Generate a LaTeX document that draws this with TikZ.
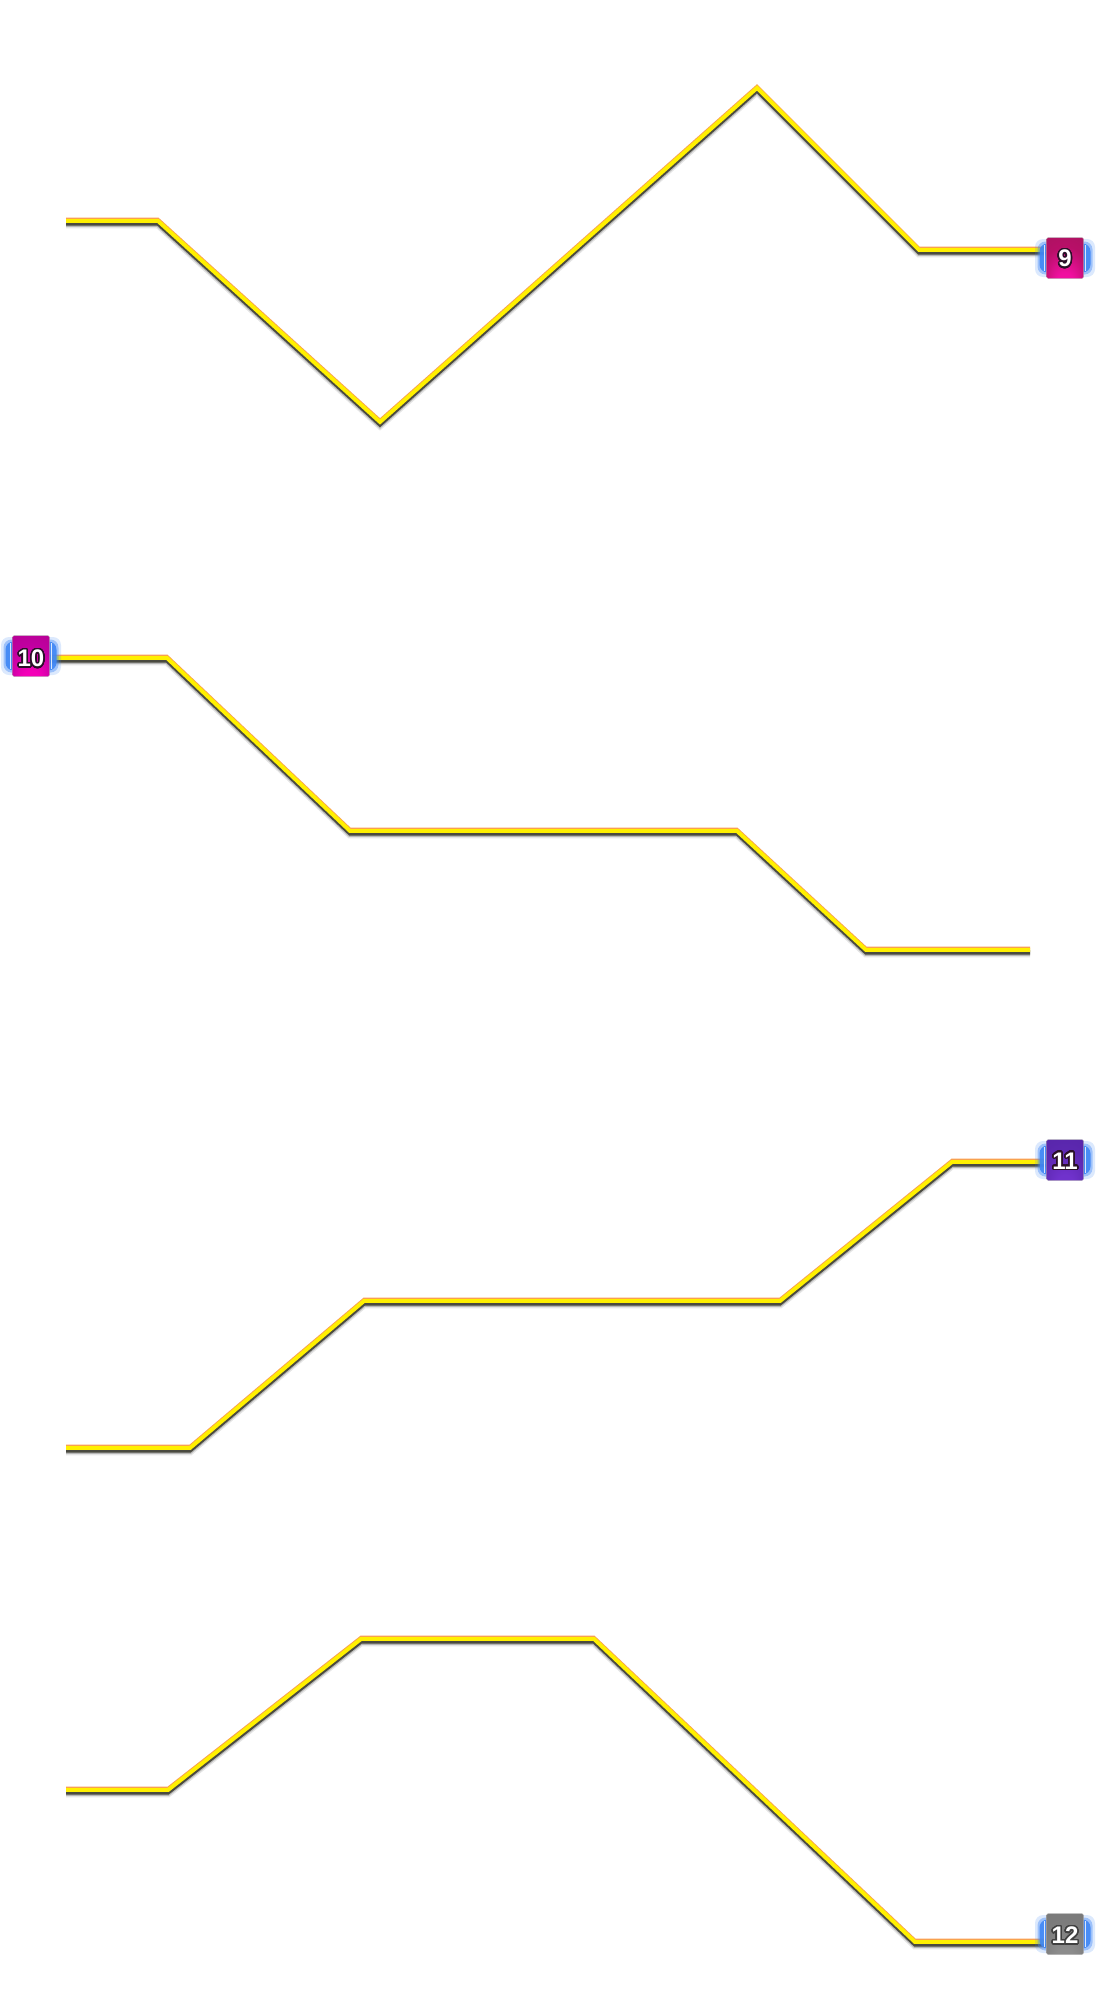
\documentclass[tikz,border=0pt]{standalone}
\usepackage{fontspec}
\setmainfont{Liberation Sans}
\setsansfont{Liberation Sans}
\usepackage[copies]{contour}
\contourlength{1.5pt}
\contournumber{32}
\usetikzlibrary{calc}
\definecolor{wireyellow}{HTML}{FFF000}
\definecolor{wireorange}{HTML}{F8A050}
\definecolor{wiredark}{HTML}{4A4A40}
\definecolor{glowblue}{HTML}{3F86F5}
\definecolor{inkdark}{HTML}{2A1028}
\definecolor{ninetop}{HTML}{A5155C}
\definecolor{ninemid}{HTML}{B80F68}
\definecolor{ninebot}{HTML}{F010A0}
\definecolor{tentop}{HTML}{B0008C}
\definecolor{tenmid}{HTML}{C000A0}
\definecolor{tenbot}{HTML}{F400B8}
\definecolor{eleventop}{HTML}{5425A5}
\definecolor{elevenmid}{HTML}{5C28B0}
\definecolor{elevenbot}{HTML}{7032CC}
\definecolor{twelvetop}{HTML}{787878}
\definecolor{twelvemid}{HTML}{7C7C7C}
\definecolor{twelvebot}{HTML}{8C8C8C}
\newcommand{\badgeshade}[1]{%
  \pgfdeclareradialshading{#1shade}{\pgfpoint{0bp}{-40bp}}{%
    color(0bp)=(#1bot);color(12bp)=(#1bot);color(30bp)=(#1mid);color(50bp)=(#1top)}}
\badgeshade{nine}\badgeshade{ten}\badgeshade{eleven}\badgeshade{twelve}
\tikzset{
  wirelayer/.style={line join=miter,miter limit=6,line cap=butt},
  wirefadeb/.style={wirelayer,draw=black,opacity=.10,line width=7.5pt,transform canvas={yshift=-3.6pt}},
  wirefadea/.style={wirelayer,draw=black,opacity=.20,line width=5.5pt,transform canvas={yshift=-3.1pt}},
  wiredarkl/.style={wirelayer,draw=wiredark,line width=4.4pt,transform canvas={yshift=-2.3pt}},
  wireorangel/.style={wirelayer,draw=wireorange,line width=3pt,transform canvas={yshift=1.8pt}},
  wireyellowl/.style={wirelayer,draw=wireyellow,line width=3.9pt},
  badge/.style={minimum width=37pt,minimum height=41pt,inner sep=0pt,rounded corners=1.5pt,
    draw=black!30,draw opacity=.5,line width=.6pt,font=\fontsize{24}{24}\bfseries\sffamily,text=white},
  gloww/.style={fill=glowblue,rounded corners=8pt,minimum width=#1,inner sep=0pt},
  glowa/.style={gloww=51pt,opacity=.9,minimum height=29pt},
  glowb/.style={gloww=55pt,opacity=.4,minimum height=33pt},
  glowc/.style={gloww=60pt,opacity=.18,minimum height=38pt},
  glowline/.style={draw=white,draw opacity=.8,line width=1.6pt},
}
\newcommand{\wire}[1]{%
  \draw[wirefadeb] #1;
  \draw[wirefadea] #1;
  \draw[wiredarkl] #1;
  \draw[wireorangel] #1;
  \draw[wireyellowl] #1;
}
% #1 drop below the badge centre, #2 outline colour, #3 text
\newcommand{\lbl}[3]{\raisebox{-#1pt}[0pt][0pt]{\contour{#2}{\textcolor{white}{#3}}}}
\newcommand{\sidelights}[1]{%
  \node[glowc] (#1gc) at (#1) {};
  \node[glowb] (#1gb) at (#1) {};
  \node[glowa] (#1ga) at (#1) {};
  \draw[glowline] ($(#1)+(-20.5,-13)$) -- ($(#1)+(-20.5,13)$);
  \draw[glowline] ($(#1)+(20.5,-13)$) -- ($(#1)+(20.5,13)$);
}
\begin{document}
\begin{tikzpicture}[x=1pt,y=-1pt]
\useasboundingbox (0,0) rectangle (1097,2012);
% centres of the badges
\coordinate (c9) at (1065,258);
\coordinate (c10) at (31,656);
\coordinate (c11) at (1065,1160);
\coordinate (c12) at (1065,1934);
% wire 1
\coordinate (a1) at (66,221);
\coordinate (a2) at (158,221);
\coordinate (a3) at (380,422);
\coordinate (a4) at (757,88);
\coordinate (a5) at (919,250);
\coordinate (a6) at (1047,250);
% wire 2
\coordinate (b1) at (49,658);
\coordinate (b2) at (167,658);
\coordinate (b3) at (350,831);
\coordinate (b4) at (737,831);
\coordinate (b5) at (866,950);
\coordinate (b6) at (1030,950);
% wire 3
\coordinate (d1) at (66,1448);
\coordinate (d2) at (190,1448);
\coordinate (d3) at (364,1301);
\coordinate (d4) at (780,1301);
\coordinate (d5) at (952,1162);
\coordinate (d6) at (1047,1162);
% wire 4
\coordinate (e1) at (66,1790);
\coordinate (e2) at (168,1790);
\coordinate (e3) at (361,1639);
\coordinate (e4) at (594,1639);
\coordinate (e5) at (915,1942);
\coordinate (e6) at (1047,1942);
\wire{(a1) -- (a2) -- (a3) -- (a4) -- (a5) -- (a6)}
\wire{(b1) -- (b2) -- (b3) -- (b4) -- (b5) -- (b6)}
\wire{(d1) -- (d2) -- (d3) -- (d4) -- (d5) -- (d6)}
\wire{(e1) -- (e2) -- (e3) -- (e4) -- (e5) -- (e6)}
\sidelights{c9}
\sidelights{c10}
\sidelights{c11}
\sidelights{c12}
\node[badge,shading=nineshade] (n9) at (c9) {\lbl{8.9}{inkdark}{9}};
\node[badge,shading=tenshade] (n10) at (c10) {\lbl{10.7}{inkdark}{10}};
\node[badge,shading=elevenshade] (n11) at (c11) {\lbl{9.1}{inkdark}{11}};
\node[badge,shading=twelveshade] (n12) at (c12) {\lbl{9.6}{black!75}{12}};
\end{tikzpicture}
\end{document}
